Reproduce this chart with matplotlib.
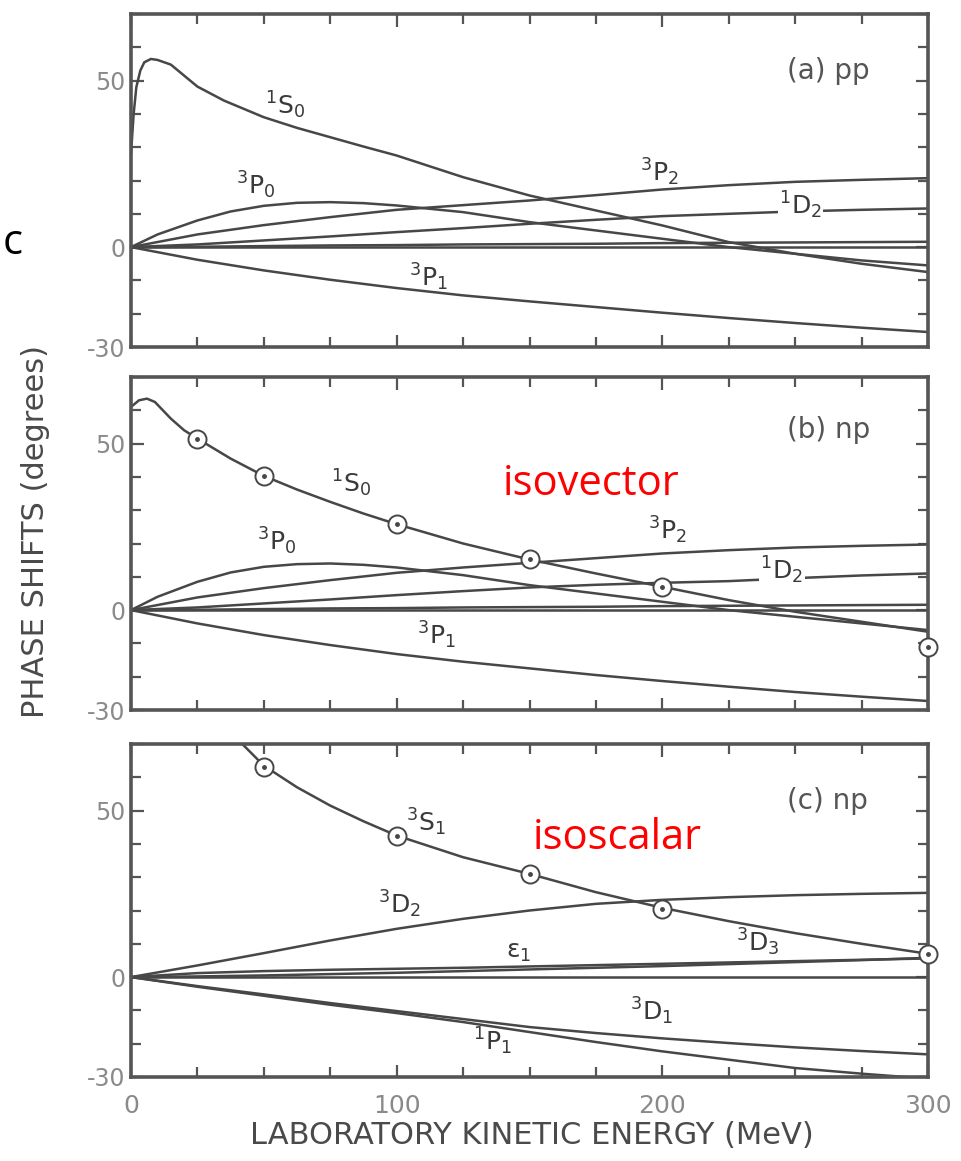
import matplotlib
matplotlib.use("Agg")
import matplotlib.pyplot as plt
from matplotlib.ticker import MultipleLocator

plt.rcParams['mathtext.default'] = 'regular'
plt.rcParams['axes.unicode_minus'] = False

# energy grid (MeV) used for most curves
E = [0, 25, 50, 75, 100, 125, 150, 175, 200, 225, 250, 275, 300]
E_p0 = [0, 10, 25, 37.5, 50, 62.5, 75, 87.5, 100, 125, 150, 175, 200, 225, 250, 275, 300]

# ---- (a) pp ----
a_1s0_E = [0, 1, 2, 3.5, 5, 7.5, 10, 15, 20, 25, 35, 50, 62.5, 75, 87.5, 100, 125, 150, 175, 200, 225, 250, 275, 300]
a_1s0 = [28, 40, 48, 53, 55.5, 56.5, 56.2, 54.8, 51.5, 48.2, 44, 39, 35.8, 33, 30.2, 27.5, 21, 15.5, 11, 6.5, 1.5, -2, -5, -7.5]
a_3p0 = [0, 3.8, 8, 10.7, 12.4, 13.3, 13.5, 13.2, 12.5, 10.5, 7.5, 5, 2.5, 0, -2, -4, -5.5]
a_3p2 = [0, 3.8, 6.6, 9, 11.2, 12.6, 14, 15.6, 17.3, 18.6, 19.6, 20.2, 20.7]
a_1d2 = [0, 0.8, 2, 3.2, 4.5, 5.7, 7, 8.2, 9.3, 10, 10.7, 11.2, 11.6]
a_3f2 = [0, 0.1, 0.3, 0.5, 0.6, 0.8, 0.9, 1.0, 1.2, 1.3, 1.4, 1.5, 1.6]
a_3p1 = [0, -3.8, -7, -9.8, -12.3, -14.5, -16.3, -18, -19.7, -21.3, -22.8, -24.2, -25.5]

# ---- (b) np, isovector ----
b_1s0_E = [0, 3, 6, 9, 12, 15, 20, 25, 37.5, 50, 62.5, 75, 87.5, 100, 125, 150, 175, 200, 225, 250, 275, 300]
b_1s0 = [61, 63, 63.5, 62.5, 60, 57.5, 54, 51.5, 45.5, 40.3, 36.2, 32.5, 29, 25.8, 20, 15.2, 11, 7, 3, -0.5, -3.5, -6.5]
b_3p0 = [0, 4, 8.5, 11.3, 13, 13.8, 14, 13.6, 12.8, 10.5, 7.5, 5, 2.5, 0, -2, -4, -6]
b_3p2 = [0, 3.8, 6.6, 9, 11.2, 12.8, 14.2, 15.6, 17, 18, 18.8, 19.3, 19.7]
b_1d2 = [0, 0.8, 2, 3.2, 4.5, 5.7, 6.8, 7.6, 8.2, 8.7, 9.6, 10.4, 11]
b_3f2 = [0, 0.1, 0.3, 0.5, 0.6, 0.8, 0.9, 1.0, 1.2, 1.3, 1.4, 1.5, 1.6]
b_3p1 = [0, -4, -7.5, -10.5, -13.2, -15.5, -17.5, -19.5, -21.3, -23, -24.6, -26, -27.3]
b_pts_E = [25, 50, 100, 150, 200, 300]
b_pts = [51.5, 40.3, 25.8, 15.2, 7, -11.2]

# ---- (c) np, isoscalar ----
c_3s1_E = [35, 40, 50, 62.5, 75, 87.5, 100, 125, 150, 175, 200, 225, 250, 275, 300]
c_3s1 = [76, 71.5, 63.5, 57, 51.5, 46.8, 42.5, 36, 31, 25.5, 20.8, 16.8, 13.2, 10, 7]
c_3d2 = [0, 3.5, 7.2, 11, 14.5, 17.5, 20, 22, 23.2, 24, 24.6, 25, 25.3]
c_eps1 = [0, 1.2, 1.8, 2.2, 2.5, 2.8, 3.2, 3.6, 4, 4.4, 4.8, 5.2, 5.6]
c_3d3 = [0, 0.2, 0.5, 0.9, 1.3, 1.8, 2.3, 2.8, 3.3, 3.9, 4.5, 5.1, 5.8]
c_3d1 = [0, -2.7, -5.2, -7.8, -10.2, -12.6, -15, -16.8, -18.4, -19.8, -21.1, -22.2, -23.2]
c_1p1 = [0, -2.9, -5.6, -8.3, -10.8, -13.5, -16.5, -19.5, -22.3, -24.8, -27.3, -29, -30.5]
c_pts_E = [50, 100, 150, 200, 300]
c_pts = [63, 42.3, 31, 20.5, 7]

LINE = '#474747'
GRAY = '#555555'

fig = plt.figure(figsize=(9.62, 11.61), dpi=100)
W, H = 962.0, 1161.0


def make_axes(top_px, bottom_px):
    left, right = 131, 928
    ax = fig.add_axes([left / W, 1 - bottom_px / H, (right - left) / W, (bottom_px - top_px) / H])
    ax.set_xlim(0, 300)
    ax.set_ylim(-30, 70)
    ax.xaxis.set_major_locator(MultipleLocator(100))
    ax.xaxis.set_minor_locator(MultipleLocator(25))
    ax.yaxis.set_minor_locator(MultipleLocator(10))
    ax.set_yticks([-30, 0, 50])
    ax.tick_params(which='both', direction='in', top=True, right=True, color=GRAY, width=1.6)
    ax.tick_params(which='major', length=9)
    ax.tick_params(which='minor', length=7)
    ax.tick_params(axis='y', labelsize=17, labelcolor='#8a8a8a', pad=4)
    ax.tick_params(axis='x', labelsize=18, labelcolor='#8a8a8a', pad=12)
    for s in ax.spines.values():
        s.set_linewidth(2.6)
        s.set_color(GRAY)
    ax.axhline(0, color=LINE, lw=1.8)
    return ax


def curve(ax, x, y):
    ax.plot(x, y, color=LINE, lw=1.8, solid_capstyle='round')


def points(ax, x, y):
    ax.plot(x, y, 'o', ms=13, mfc='white', mec=LINE, mew=1.4, clip_on=False, zorder=5)
    ax.plot(x, y, 'o', ms=2.5, color=LINE, clip_on=False, zorder=6)


def label(ax, x, y, s, bg=False):
    kw = dict(fontsize=18, color='#3a3a3a', ha='center', va='center')
    if bg:
        kw['bbox'] = dict(facecolor='white', edgecolor='none', pad=1)
    ax.text(x, y, s, **kw)


# panel (a)
ax1 = make_axes(14, 347)
curve(ax1, a_1s0_E, a_1s0)
curve(ax1, E_p0, a_3p0)
for ys in (a_3p2, a_1d2, a_3f2, a_3p1):
    curve(ax1, E, ys)
label(ax1, 58, 42.6, r'$^1S_0$')
label(ax1, 47, 18.6, r'$^3P_0$')
label(ax1, 199, 22.5, r'$^3P_2$')
label(ax1, 252, 12.5, r'$^1D_2$', bg=True)
label(ax1, 112, -9, r'$^3P_1$')
ax1.text(247, 53, '(a) pp', fontsize=20, color=GRAY, va='center')
ax1.set_xticklabels([])

# panel (b)
ax2 = make_axes(377, 710)
curve(ax2, b_1s0_E, b_1s0)
curve(ax2, E_p0, b_3p0)
for ys in (b_3p2, b_1d2, b_3f2, b_3p1):
    curve(ax2, E, ys)
points(ax2, b_pts_E, b_pts)
label(ax2, 83, 38, r'$^1S_0$')
label(ax2, 55, 20.6, r'$^3P_0$')
label(ax2, 202, 24, r'$^3P_2$')
label(ax2, 245, 12, r'$^1D_2$', bg=True)
label(ax2, 115, -7.6, r'$^3P_1$')
ax2.text(247, 54, '(b) np', fontsize=20, color=GRAY, va='center')
ax2.set_xticklabels([])

# panel (c)
ax3 = make_axes(744, 1077)
curve(ax3, c_3s1_E, c_3s1)
for ys in (c_3d2, c_eps1, c_3d3, c_3d1, c_1p1):
    curve(ax3, E, ys)
points(ax3, c_pts_E, c_pts)
label(ax3, 111, 46.5, r'$^3S_1$')
label(ax3, 101, 22, r'$^3D_2$')
label(ax3, 146, 7.6, r'$\epsilon_1$')
label(ax3, 236, 10.4, r'$^3D_3$')
label(ax3, 196, -10.4, r'$^3D_1$')
label(ax3, 136, -19.3, r'$^1P_1$')
ax3.text(247, 53, '(c) np', fontsize=20, color=GRAY, va='center')
ax3.set_xticks([0, 100, 200, 300])
ax3.set_xticklabels(['0', '100', '200', '300'])

fig.text(532 / W, 1 - 1135 / H, 'LABORATORY KINETIC ENERGY (MeV)', fontsize=22,
         color='#4a4a4a', ha='center', va='center')
fig.text(36 / W, 1 - 532 / H, 'PHASE SHIFTS (degrees)', fontsize=22, color='#4a4a4a',
         rotation=90, ha='center', va='center')

fig.text(591 / W, 1 - 484 / H, 'isovector', fontsize=30, color='red', ha='center',
         va='center', family='Open Sans')
fig.text(617 / W, 1 - 838 / H, 'isoscalar', fontsize=30, color='red', ha='center',
         va='center', family='Open Sans')
fig.text(13 / W, 1 - 243 / H, 'c', fontsize=30, color='black', ha='center',
         va='center', family='Open Sans')

fig.savefig('out.png', dpi=100)
